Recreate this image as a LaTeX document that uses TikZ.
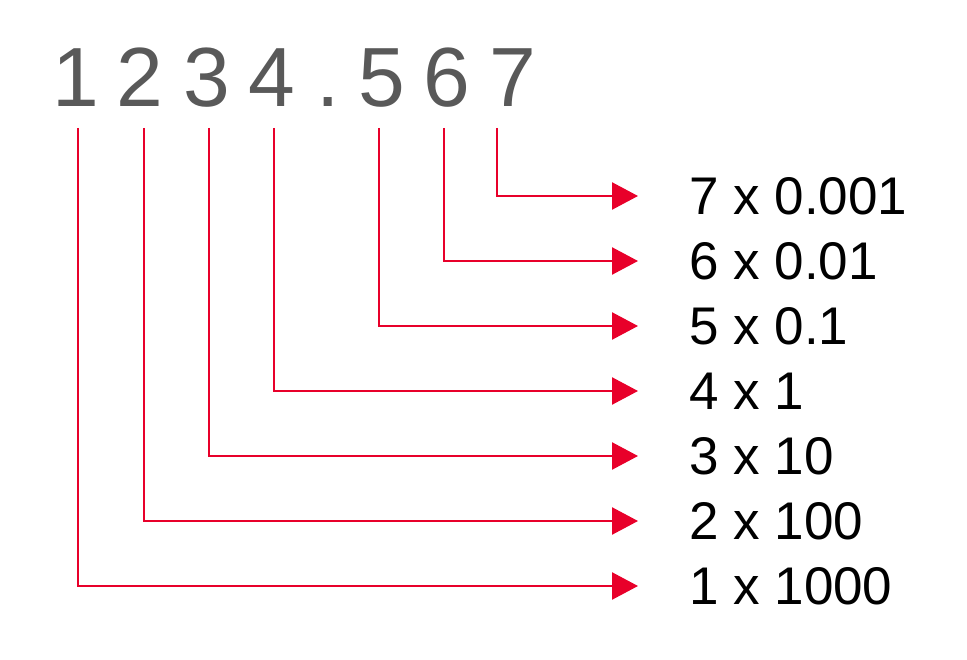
\documentclass[tikz,border=0pt]{standalone}
\usepackage{fontspec}
\setmainfont{Liberation Sans}
\usetikzlibrary{arrows.meta}
\definecolor{arrowred}{RGB}{232,0,42}
\definecolor{digitgray}{RGB}{89,89,89}
\begin{document}
\begin{tikzpicture}[x=1pt,y=-1pt,
  digit/.style={inner sep=0pt,anchor=base,text=digitgray,font=\fontsize{84}{84}\selectfont},
  lbl/.style={inner sep=0pt,anchor=west,text=black,font=\fontsize{53}{53}\selectfont},
  conn/.style={draw=arrowred,line width=2.5pt,-{Triangle[length=26pt,width=27pt]}}]
\useasboundingbox (0,0) rectangle (967,660);
% top number
\node[digit] (d1) at (76,107) {1};
\node[digit] (d2) at (140,107) {2};
\node[digit] (d3) at (207,107) {3};
\node[digit] (d4) at (272,107) {4};
\node[digit] (dp) at (328,107) {.};
\node[digit] (d5) at (382,107) {5};
\node[digit] (d6) at (447,107) {6};
\node[digit] (d7) at (513,107) {7};
% labels
\node[lbl] (l7) at (689,196) {7 x 0.001};
\node[lbl] (l6) at (689,261) {6 x 0.01};
\node[lbl] (l5) at (689,326) {5 x 0.1};
\node[lbl] (l4) at (689,391) {4 x 1};
\node[lbl] (l3) at (689,456) {3 x 10};
\node[lbl] (l2) at (689,521) {2 x 100};
\node[lbl] (l1) at (689,586) {1 x 1000};
% start points below digits
\coordinate (s1) at (78,128);
\coordinate (s2) at (144,128);
\coordinate (s3) at (209,128);
\coordinate (s4) at (274,128);
\coordinate (s5) at (379,128);
\coordinate (s6) at (444,128);
\coordinate (s7) at (497,128);
% connectors
\foreach \i in {1,...,7}{
  \draw[conn] (s\i) |- ([xshift=-51pt]l\i.west);
}
\end{tikzpicture}
\end{document}
